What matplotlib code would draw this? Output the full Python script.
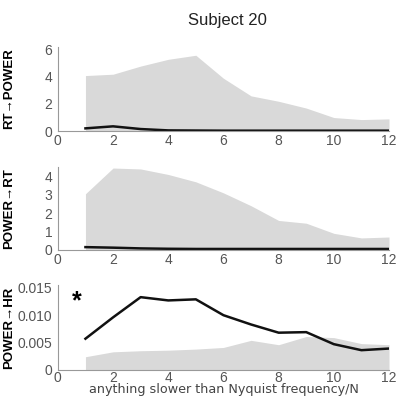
import matplotlib
matplotlib.use('Agg')
import matplotlib.pyplot as plt

plt.rcParams['font.family'] = ['Liberation Sans', 'DejaVu Sans']

# frequency index
x = [1, 2, 3, 4, 5, 6, 7, 8, 9, 10, 11, 12]

# RT -> POWER
rt_power_null = [4.1, 4.2, 4.8, 5.3, 5.6, 3.9, 2.6, 2.2, 1.7, 1.0, 0.85, 0.9]
rt_power = [0.2, 0.35, 0.15, 0.05, 0.04, 0.03, 0.03, 0.03, 0.03, 0.03, 0.03, 0.03]

# POWER -> RT
power_rt_null = [3.05, 4.45, 4.4, 4.1, 3.7, 3.1, 2.4, 1.6, 1.45, 0.9, 0.65, 0.7]
power_rt = [0.15, 0.12, 0.08, 0.06, 0.05, 0.05, 0.05, 0.05, 0.05, 0.05, 0.05, 0.05]

# POWER -> HR
power_hr_null = [0.0024, 0.0033, 0.0035, 0.0036, 0.0038, 0.0041, 0.0054, 0.0046, 0.0061, 0.0059, 0.0048, 0.0046]
power_hr = [0.0057, 0.0096, 0.0133, 0.0127, 0.0129, 0.0100, 0.0083, 0.0068, 0.0069, 0.0047, 0.0036, 0.0039]

fig = plt.figure(figsize=(3.99, 3.96), dpi=100)

panels = [
    ([0.145, 0.669, 0.83, 0.212], rt_power_null, rt_power, 'RT\u2192POWER', (0, 6.2), [0, 2, 4, 6], ['0', '2', '4', '6']),
    ([0.145, 0.369, 0.83, 0.209], power_rt_null, power_rt, 'POWER\u2192RT', (0, 4.5), [0, 1, 2, 3, 4], ['0', '1', '2', '3', '4']),
    ([0.145, 0.066, 0.83, 0.214], power_hr_null, power_hr, 'POWER\u2192HR', (0, 0.0155), [0, 0.005, 0.01, 0.015], ['0', '0.005', '0.010', '0.015']),
]

axes = []
for rect, null, obs, lab, ylim, yt, ytl in panels:
    ax = fig.add_axes(rect)
    ax.fill_between(x, 0, null, color='#d9d9d9', linewidth=0)
    ax.plot(x, obs, color='#111111', linewidth=1.8)
    ax.set_xlim(0, 12)
    ax.set_ylim(*ylim)
    ax.set_xticks([0, 2, 4, 6, 8, 10, 12])
    ax.set_yticks(yt)
    ax.set_yticklabels(ytl)
    ax.tick_params(length=0, labelsize=10, colors='#555555')
    ax.tick_params(axis='y', pad=4)
    ax.tick_params(axis='x', pad=2)
    for s in ['top', 'right']:
        ax.spines[s].set_visible(False)
    for s in ['left', 'bottom']:
        ax.spines[s].set_color('#999999')
        ax.spines[s].set_linewidth(0.8)
    ax.set_ylabel(lab, fontsize=9.5, fontweight='bold')
    ax.yaxis.set_label_coords(-0.13, 0.5)
    axes.append(ax)

axes[2].tick_params(axis='x', pad=0.5)

fig.text(0.571, 0.947, 'Subject 20', fontsize=12, ha='center', va='center', color='#222222')
fig.text(0.561, 0.017, 'anything slower than Nyquist frequency/N', fontsize=9.2,
         family='DejaVu Sans', color='#444444', ha='center', va='center')
axes[2].text(0.7, 0.0125, '*', fontsize=18, fontweight='bold', ha='center', va='center')

fig.savefig('out.png', dpi=100)
